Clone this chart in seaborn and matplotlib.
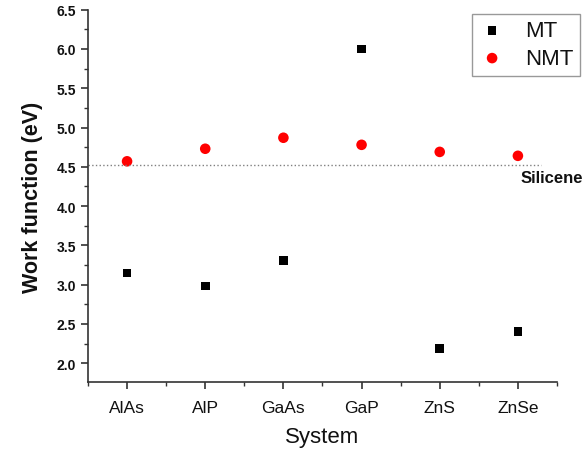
import pandas as pd
import matplotlib
matplotlib.use("Agg")
import matplotlib.pyplot as plt
from matplotlib.ticker import MultipleLocator
import seaborn as sns

sns.set_style("ticks")
plt.rcParams['font.family'] = ['Liberation Sans', 'DejaVu Sans']
plt.rcParams['text.color'] = '#111111'
plt.rcParams['axes.labelcolor'] = '#111111'
plt.rcParams['xtick.color'] = '#111111'
plt.rcParams['ytick.color'] = '#111111'

# Values
systems = ["AlAs", "AlP", "GaAs", "GaP", "ZnS", "ZnSe"]
mt_values = [3.15, 2.98, 3.31, 6.00, 2.19, 2.40]
nmt_values = [4.57, 4.73, 4.87, 4.78, 4.69, 4.64]
silicene_wf = 4.52

df = pd.DataFrame({
    "System": systems * 2,
    "Work function": mt_values + nmt_values,
    "Type": ["MT"] * len(systems) + ["NMT"] * len(systems),
})

fig = plt.figure(figsize=(5.85, 4.56), dpi=100)
ax = fig.add_axes([0.1504, 0.160, 0.8017, 0.8165])

# squares for MT, circles for NMT
sns.scatterplot(data=df[df["Type"] == "MT"], x="System", y="Work function",
                marker="s", color="black", s=38, edgecolor="none",
                label="MT", ax=ax)
sns.scatterplot(data=df[df["Type"] == "NMT"], x="System", y="Work function",
                marker="o", color="red", s=58, edgecolor="none",
                label="NMT", ax=ax)

# Silicene reference line
ax.plot([-0.5, 5.3], [silicene_wf, silicene_wf], ls=":", color="gray", lw=1.0)
ax.text(5.03, silicene_wf - 0.16, "Silicene", fontsize=12, fontweight="bold",
        ha="left", va="center", clip_on=False)

ax.set_xlim(-0.5, 5.5)
ax.set_ylim(1.76, 6.5)
ax.yaxis.set_major_locator(MultipleLocator(0.5))
ax.yaxis.set_minor_locator(MultipleLocator(0.25))
ax.xaxis.set_minor_locator(MultipleLocator(0.5))
ax.yaxis.set_major_formatter(matplotlib.ticker.FormatStrFormatter("%.1f"))

ax.tick_params(which="major", direction="out", length=5, width=1.2, color="#333333")
ax.tick_params(which="minor", direction="out", length=3, width=1.0, color="#333333")
ax.tick_params(axis="x", labelsize=12.5, pad=8)
ax.tick_params(axis="y", labelsize=10)
for lab in ax.get_yticklabels():
    lab.set_fontweight("bold")

for side in ["top", "right"]:
    ax.spines[side].set_visible(False)
for side in ["left", "bottom"]:
    ax.spines[side].set_linewidth(1.2)
    ax.spines[side].set_color("#333333")

ax.set_xlabel("System", fontsize=16, labelpad=8)
ax.set_ylabel("Work function (eV)", fontsize=15.5, fontweight="bold", labelpad=10)

ax.get_legend().remove()
handles, labels = ax.get_legend_handles_labels()
leg = fig.legend(handles, labels, loc="upper left", bbox_to_anchor=(0.807, 0.968),
                 fontsize=16, frameon=True, fancybox=False, edgecolor="gray",
                 borderpad=0.3, handletextpad=0.9, labelspacing=0.3,
                 handlelength=1.2, borderaxespad=0)
leg.get_frame().set_linewidth(1.0)

fig.savefig("out.png", dpi=100)
